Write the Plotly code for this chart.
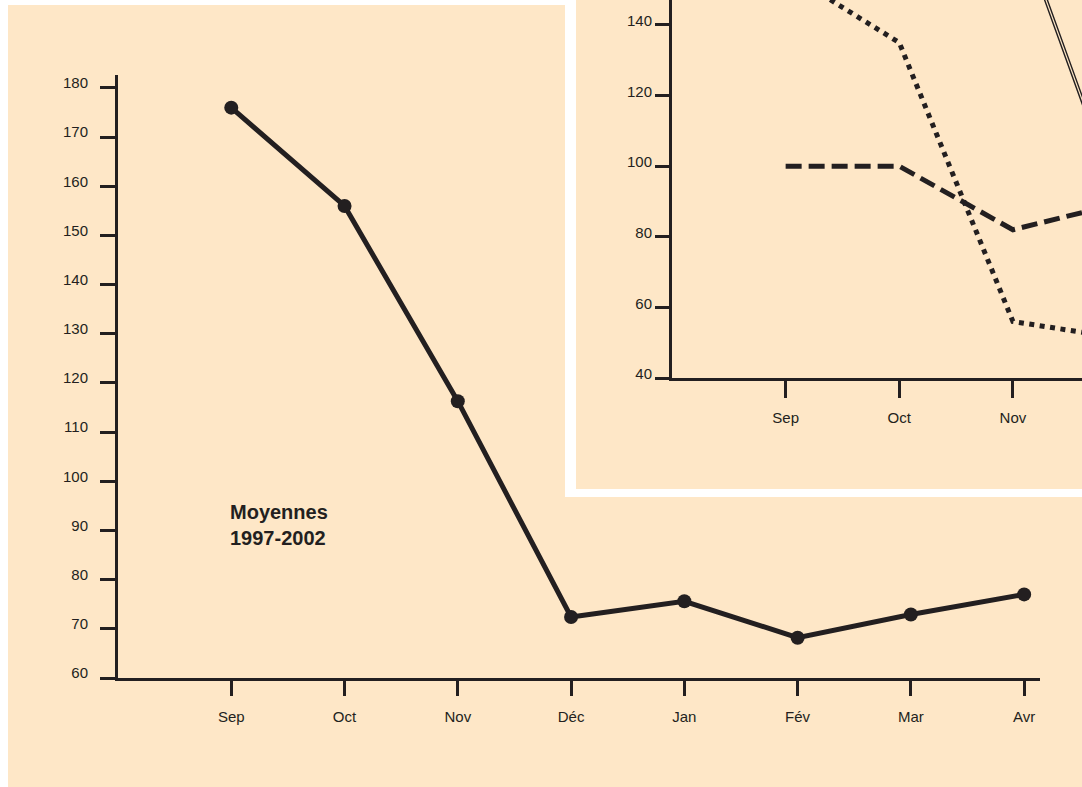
import plotly.graph_objects as go

# ---- data ----
months = ["Sep", "Oct", "Nov", "Déc", "Jan", "Fév", "Mar", "Avr"]
moyennes = [176, 156, 116.3, 72.4, 75.6, 68.2, 72.9, 77.0]

inset_months = ["Sep", "Oct", "Nov", "Déc"]
serie_pointillee = [155, 135, 56, 51]
serie_tirets = [100, 100, 82, 90]
serie_double = [260, 230, 173, 84]

main_yticks = [60, 70, 80, 90, 100, 110, 120, 130, 140, 150, 160, 170, 180]
inset_yticks = [40, 60, 80, 100, 120, 140]

W, H = 1082, 787
INK = "#231f20"
PEACH = "#fee7c7"
FONT = "Liberation Sans, Arial, sans-serif"


def px(x):
    return x / W


def py(y):
    return 1 - y / H


fig = go.Figure()

fig.add_trace(go.Scatter(
    x=list(range(len(months))), y=moyennes, mode="lines+markers",
    line=dict(color=INK, width=5), marker=dict(color=INK, size=14),
    xaxis="x", yaxis="y", showlegend=False, cliponaxis=False))

ix = list(range(len(inset_months)))
fig.add_trace(go.Scatter(
    x=ix, y=serie_pointillee, mode="lines",
    line=dict(color=INK, width=5, dash="5px,5.5px"),
    xaxis="x2", yaxis="y2", showlegend=False))
fig.add_trace(go.Scatter(
    x=ix, y=serie_tirets, mode="lines",
    line=dict(color=INK, width=5, dash="16px,7px"),
    xaxis="x2", yaxis="y2", showlegend=False))
fig.add_trace(go.Scatter(
    x=ix, y=serie_double, mode="lines",
    line=dict(color=INK, width=4),
    xaxis="x2", yaxis="y2", showlegend=False))
fig.add_trace(go.Scatter(
    x=ix, y=serie_double, mode="lines",
    line=dict(color=PEACH, width=1.2),
    xaxis="x2", yaxis="y2", showlegend=False))

shapes = [
    dict(type="rect", xref="paper", yref="paper", x0=px(8), x1=px(1082),
         y0=py(787), y1=py(5), fillcolor=PEACH, line=dict(width=0), layer="below"),
    dict(type="rect", xref="paper", yref="paper", x0=px(565), x1=px(1082),
         y0=py(497), y1=py(0), fillcolor="white", line=dict(width=0), layer="below"),
    dict(type="rect", xref="paper", yref="paper", x0=px(576), x1=px(1082),
         y0=py(489), y1=py(0), fillcolor=PEACH, line=dict(width=0), layer="below"),
]

tickfont = dict(family=FONT, size=15, color=INK)
common = dict(showgrid=False, zeroline=False, showline=True, linecolor=INK, linewidth=3,
              ticks="outside", tickwidth=3, tickcolor=INK, tickfont=tickfont,
              automargin=False)

fig.update_layout(
    width=W, height=H, autosize=False,
    margin=dict(l=0, r=0, t=0, b=0, pad=0),
    paper_bgcolor="white", plot_bgcolor="rgba(0,0,0,0)",
    shapes=shapes,
    xaxis=dict(domain=[px(118), px(1040)], range=[-1, 7.14],
               tickvals=list(range(len(months))), ticktext=months,
               ticklen=15, ticklabelstandoff=8, anchor="y", **common),
    yaxis=dict(domain=[py(678), py(75)], range=[60, 182.64],
               tickvals=main_yticks,
               ticklen=15, ticklabelstandoff=9, ticklabelshift=-5, anchor="x", **common),
    xaxis2=dict(domain=[px(672), 1], range=[-1, 2.608],
                tickvals=list(range(3)), ticktext=inset_months[:3],
                ticklen=17, ticklabelstandoff=7, anchor="y2", **common),
    yaxis2=dict(domain=[py(378), 1], range=[40, 147.08],
                tickvals=inset_yticks,
                ticklen=14, ticklabelstandoff=0, ticklabelshift=-4, anchor="x2", **common),
    annotations=[dict(
        text="<b>Moyennes<br>1997-2002</b>", xref="paper", yref="paper",
        x=px(279), y=py(525), xanchor="center", yanchor="middle", showarrow=False,
        align="left", font=dict(family=FONT, size=20, color=INK))],
)

fig.write_html(
    "out.html",
    config={"responsive": False, "displayModeBar": False},
    post_script="document.body.style.margin='0';document.body.style.padding='0';"
                "document.body.style.overflow='hidden';",
)
